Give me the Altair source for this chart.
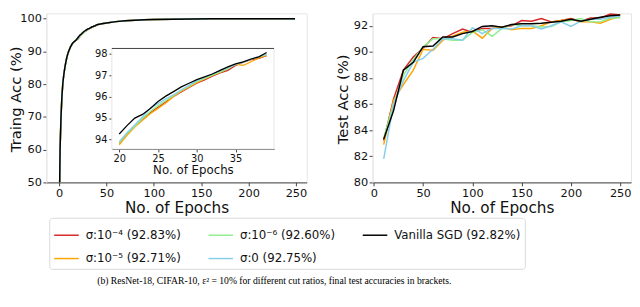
import altair as alt
import pandas as pd

# ---------------- data ----------------
LABELS = ["σ:10⁻⁴ (92.83%)", "σ:10⁻⁵ (92.71%)", "σ:10⁻⁶ (92.60%)",
          "σ:0 (92.75%)", "Vanilla SGD (92.82%)"]
COLORS = ["#d62728", "#ffa500", "#90ee90", "#87ceeb", "#000000"]

# training accuracy: shared early / late part, per-series inset part (epochs 20..39)
train_early_epochs = [0, 1, 2, 3, 4, 5, 6, 7, 8, 9, 10, 12, 14, 16, 18]
train_early = [35, 60, 70, 76.5, 80.5, 83, 85, 86.6, 88, 89.1, 90, 91.4, 92.4, 93.0, 93.5]
inset_epochs = list(range(20, 40))
train_red = [93.82, 94.25, 94.6, 94.95, 95.25, 95.5, 95.75, 96.0, 96.22, 96.42,
             96.62, 96.78, 96.95, 97.1, 97.22, 97.45, 97.6, 97.72, 97.78, 97.9]
train_orange = [93.75, 94.2, 94.58, 94.9, 95.2, 95.45, 95.7, 96.0, 96.25, 96.45,
                96.65, 96.82, 96.98, 97.12, 97.3, 97.5, 97.45, 97.62, 97.8, 97.92]
train_green = [93.85, 94.28, 94.62, 94.98, 95.3, 95.58, 95.82, 96.05, 96.28, 96.48,
               96.7, 96.85, 97.0, 97.15, 97.3, 97.5, 97.62, 97.75, 97.85, 97.95]
train_blue = [93.9, 94.32, 94.68, 95.05, 95.45, 95.68, 95.9, 96.08, 96.32, 96.52,
              96.74, 96.9, 97.05, 97.2, 97.35, 97.5, 97.6, 97.75, 97.86, 97.97]
train_black = [94.26, 94.65, 95.0, 95.17, 95.45, 95.77, 96.02, 96.23, 96.45, 96.62,
               96.79, 96.92, 97.05, 97.22, 97.38, 97.52, 97.62, 97.75, 97.85, 98.05]
train_late_epochs = [40, 45, 50, 60, 70, 80, 90, 100, 120, 140, 160, 180, 200, 225, 249]
train_late = [98.15, 98.45, 98.7, 99.1, 99.35, 99.55, 99.68, 99.75, 99.86, 99.92,
              99.95, 99.97, 99.98, 99.99, 100.0]

# test accuracy, every 10 epochs
test_epochs = list(range(10, 260, 10))
test_red = [83.2, 86.4, 88.6, 89.6, 90.3, 91.1, 91.0, 91.4, 91.75, 91.5, 91.8, 91.8, 91.9,
            92.0, 92.4, 92.35, 92.55, 92.3, 92.4, 92.55, 92.35, 92.6, 92.6, 92.9, 92.83]
test_orange = [82.9, 86.3, 87.5, 88.6, 90.2, 90.1, 90.9, 91.2, 91.5, 91.6, 91.05, 91.8, 91.9,
               91.7, 91.8, 91.8, 92.0, 92.3, 92.4, 92.5, 92.3, 92.3, 92.2, 92.5, 92.71]
test_green = [83.4, 86.0, 88.2, 89.4, 90.4, 91.0, 91.0, 90.9, 90.9, 91.5, 91.7, 91.2, 91.8,
              92.1, 92.0, 92.0, 91.9, 91.95, 92.3, 92.4, 92.55, 92.3, 92.3, 92.6, 92.60]
test_blue = [81.8, 86.0, 87.8, 89.2, 89.5, 90.2, 91.0, 91.0, 90.9, 91.85, 91.4, 91.8, 91.8,
             91.75, 92.0, 92.0, 91.75, 92.0, 92.3, 91.95, 92.35, 92.5, 92.5, 92.65, 92.75]
test_black = [83.3, 85.5, 88.6, 89.2, 90.4, 90.45, 91.14, 91.14, 91.4, 91.56, 91.95, 92.0,
              91.89, 92.1, 92.15, 92.15, 92.2, 92.27, 92.35, 92.5, 92.35, 92.5, 92.66, 92.77, 92.82]

CAPTION = "(b) ResNet-18, CIFAR-10, ε² = 10% for different cut ratios, final test accuracies in brackets."

# ---------------- tables ----------------
inset_series = [train_red, train_orange, train_green, train_blue, train_black]
test_series = [test_red, test_orange, test_green, test_blue, test_black]

rows_main, rows_inset, rows_test = [], [], []
for lab, ins, tst in zip(LABELS, inset_series, test_series):
    ep = train_early_epochs + inset_epochs + train_late_epochs
    vals = train_early + ins + train_late
    for e, v in zip(ep, vals):
        rows_main.append({"epoch": e, "acc": v, "series": lab})
    for e, v in zip(inset_epochs, ins):
        rows_inset.append({"epoch": e, "acc": v, "series": lab})
    for e, v in zip(test_epochs, tst):
        rows_test.append({"epoch": e, "acc": v, "series": lab})
df_main = pd.DataFrame(rows_main)
df_inset = pd.DataFrame(rows_inset)
df_test = pd.DataFrame(rows_test)

BLACK = LABELS[4]

color = alt.Color(
    "series:N",
    scale=alt.Scale(domain=LABELS, range=COLORS),
    legend=alt.Legend(
        title=None, orient="none", legendX=3, legendY=208, columns=3,
        symbolType="M-1,0H1", symbolSize=625, symbolStrokeWidth=1.5,
        labelFontSize=12, labelFont="DejaVu Sans", labelColor="#111",
        columnPadding=25, rowPadding=4, labelOffset=6, padding=4, gridAlign="each",
        strokeColor="#d9d9d9", fillColor="white", cornerRadius=3,
        labelLimit=300,
    ),
)

DARK = "#404040"
LIGHT = "#e6e6e6"
W1, H = 265, 172
W2 = 263

def xaxis(**kw):
    base = dict(title="No. of Epochs", titleFontSize=15.5, labelFontSize=11.5, tickSize=3.5,
                labelPadding=1.5, grid=False, domainColor=DARK, tickColor=DARK,
                labelColor="#111", titleColor="#111", titleFontWeight="normal",
                values=[0, 50, 100, 150, 200, 250], titlePadding=2)
    base.update(kw)
    return alt.Axis(**base)

def yaxis(title, values, **kw):
    base = dict(title=title, titleFontSize=15, labelFontSize=11.5, tickSize=3.5,
                labelPadding=1.5, grid=False, domainColor=LIGHT, tickColor=DARK,
                labelColor="#111", titleColor="#111", titleFontWeight="normal",
                values=values, titleX=-23, titleY=H / 2 + 1)
    base.update(kw)
    return alt.Axis(**base)

# ---------- left panel ----------
xs_main = alt.Scale(domain=[-13.5, 261.4], nice=False, zero=False)
ys_main = alt.Scale(domain=[50, 101.62], nice=False, zero=False)
main_base = alt.Chart(df_main).encode(
    x=alt.X("epoch:Q", scale=xs_main, axis=xaxis()),
    y=alt.Y("acc:Q", scale=ys_main, axis=yaxis("Traing Acc (%)", [50, 60, 70, 80, 90, 100])),
    color=color,
)
main_col = main_base.transform_filter(alt.datum.series != BLACK).mark_line(strokeWidth=1.5, clip=True)
main_blk = main_base.transform_filter(alt.datum.series == BLACK).mark_line(strokeWidth=1.5, clip=True)
main_layer = alt.layer(main_col, main_blk)

IX0, IX1, IY0, IY1 = 66.7, 231.7, 35.7, 138.0
frame_df = pd.DataFrame({"k": [0]})
inset_bg = alt.Chart(frame_df).mark_rect(fill="white", stroke=LIGHT, strokeWidth=1).encode(
    x=alt.value(IX0), x2=alt.value(IX1), y=alt.value(IY0), y2=alt.value(IY1))
inset_top = alt.Chart(frame_df).mark_rule(color=DARK, strokeWidth=1).encode(
    x=alt.value(IX0), x2=alt.value(IX1), y=alt.value(IY0))

xs_in = alt.Scale(domain=[19.05, 39.95], range=[IX0, IX1], nice=False, zero=False)
ys_in = alt.Scale(domain=[93.56, 98.24], range=[IY1, IY0], nice=False, zero=False)
inset_base = alt.Chart(df_inset).encode(
    x=alt.X("epoch:Q", scale=xs_in,
            axis=alt.Axis(orient="bottom", offset=-(H - IY1), values=[20, 25, 30, 35],
                          title="No. of Epochs", titleFontSize=12, labelFontSize=10,
                          tickSize=3, labelPadding=2, titlePadding=1, grid=False,
                          domainColor=DARK, tickColor=DARK, labelColor="#111",
                          titleColor="#111", titleFontWeight="normal")),
    y=alt.Y("acc:Q", scale=ys_in,
            axis=alt.Axis(orient="left", offset=-IX0, values=[94, 95, 96, 97, 98],
                          title=None, labelFontSize=10, tickSize=3, labelPadding=2,
                          grid=False, domain=False, tickColor=DARK, labelColor="#111")),
    color=color,
)
inset_col = inset_base.transform_filter(alt.datum.series != BLACK).mark_line(strokeWidth=1.3)
inset_blk = inset_base.transform_filter(alt.datum.series == BLACK).mark_line(strokeWidth=1.3)
inset_layer = alt.layer(inset_col, inset_blk)

caption = alt.Chart(frame_df).mark_text(
    text=CAPTION, font="Liberation Serif", fontSize=9.8, color="#000", align="center",
    baseline="middle").encode(x=alt.value(232), y=alt.value(272))

left = alt.layer(
    main_layer, inset_bg, inset_top, inset_layer, caption
).resolve_scale(x="independent", y="independent").properties(width=W1, height=H)

# ---------- right panel ----------
xs_t = alt.Scale(domain=[-1.3, 261], nice=False, zero=False)
ys_t = alt.Scale(domain=[80, 92.95], nice=False, zero=False)
test_base = alt.Chart(df_test).encode(
    x=alt.X("epoch:Q", scale=xs_t, axis=xaxis()),
    y=alt.Y("acc:Q", scale=ys_t, axis=yaxis("Test Acc (%)", [80, 82, 84, 86, 88, 90, 92])),
    color=color,
)
test_col = test_base.transform_filter(alt.datum.series != BLACK).mark_line(strokeWidth=1.5)
test_blk = test_base.transform_filter(alt.datum.series == BLACK).mark_line(strokeWidth=1.5)
right = alt.layer(test_col, test_blk).properties(width=W2, height=H)

chart = alt.hconcat(left, right, spacing=67, bounds="flush").properties(
    padding=0
).configure(font="DejaVu Sans").configure_view(stroke=LIGHT, strokeWidth=1)

chart.save("out.html", embed_options={"renderer": "svg", "actions": False})
